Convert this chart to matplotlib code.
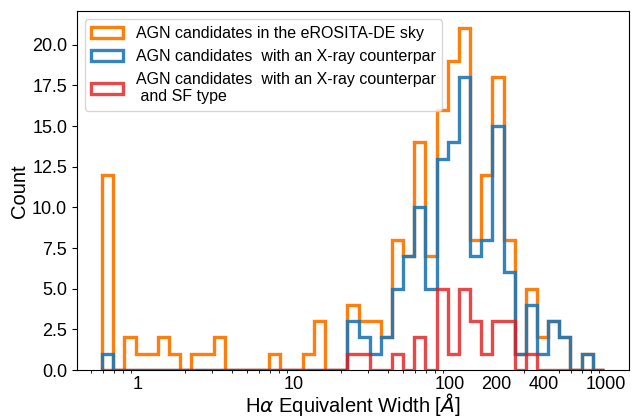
import numpy as np
import matplotlib.pyplot as plt
from matplotlib.ticker import FixedLocator, FixedFormatter

plt.rcParams['font.family'] = ['Liberation Sans', 'DejaVu Sans']

# log-spaced bins in equivalent width
ew_min = 0.59
ew_max = 973.0
n_bins = 45

# counts per bin
all_counts = [12, 0, 2, 1, 1, 2, 1, 0, 1, 1, 2, 0, 0, 0, 0, 1, 0, 0, 1, 3, 0, 0,
              4, 3, 3, 2, 8, 7, 14, 7, 16, 19, 21, 8, 12, 18, 8, 1, 5, 2, 3, 2, 0, 1, 0]
xray_counts = [1, 0, 0, 0, 0, 0, 0, 0, 0, 0, 0, 0, 0, 0, 0, 0, 0, 0, 0, 0, 0, 0,
               3, 2, 1, 2, 5, 7, 10, 5, 13, 14, 18, 7, 8, 15, 6, 1, 4, 1, 3, 2, 0, 1, 0]
sf_counts = [0, 0, 0, 0, 0, 0, 0, 0, 0, 0, 0, 0, 0, 0, 0, 0, 0, 0, 0, 0, 0, 0,
             1, 1, 0, 0, 1, 0, 2, 0, 5, 1, 5, 3, 1, 3, 3, 0, 1, 0, 0, 0, 0, 0, 0]

labels = ['AGN candidates in the eROSITA-DE sky',
          'AGN candidates  with an X-ray counterpar',
          'AGN candidates  with an X-ray counterpar\n and SF type']

bins = np.logspace(np.log10(ew_min), np.log10(ew_max), n_bins + 1)
centers = np.sqrt(bins[:-1] * bins[1:])

fig = plt.figure(figsize=(6.36, 4.17), dpi=100)
ax = fig.add_axes([0.121, 0.1127, 0.868, 0.860])

ax.hist(centers, bins=bins, weights=all_counts, histtype='step', lw=2.4,
        color='#ff7f0e', label=labels[0])
ax.hist(centers, bins=bins, weights=xray_counts, histtype='step', lw=2.4,
        color='#1f77b4', alpha=0.9, label=labels[1])
ax.hist(centers, bins=bins, weights=sf_counts, histtype='step', lw=2.4,
        color='#e41a1c', alpha=0.8, label=labels[2])

ax.set_xscale('log')
ticks = [1, 10, 100, 200, 400, 1000]
ax.xaxis.set_major_locator(FixedLocator(ticks))
ax.xaxis.set_major_formatter(FixedFormatter([str(t) for t in ticks]))
ax.tick_params(axis='both', labelsize=13)
ax.tick_params(axis='x', which='major', length=0, pad=4)

ax.set_xlabel(r'H$\alpha$ Equivalent Width [$\AA$]', fontsize=14.5, labelpad=-1)
ax.set_ylabel('Count', fontsize=14.5, labelpad=2)

ax.legend(loc='upper left', fontsize=11.5, handlelength=2.0,
          borderpad=0.4, labelspacing=0.5)

fig.savefig('out.png', dpi=100)
